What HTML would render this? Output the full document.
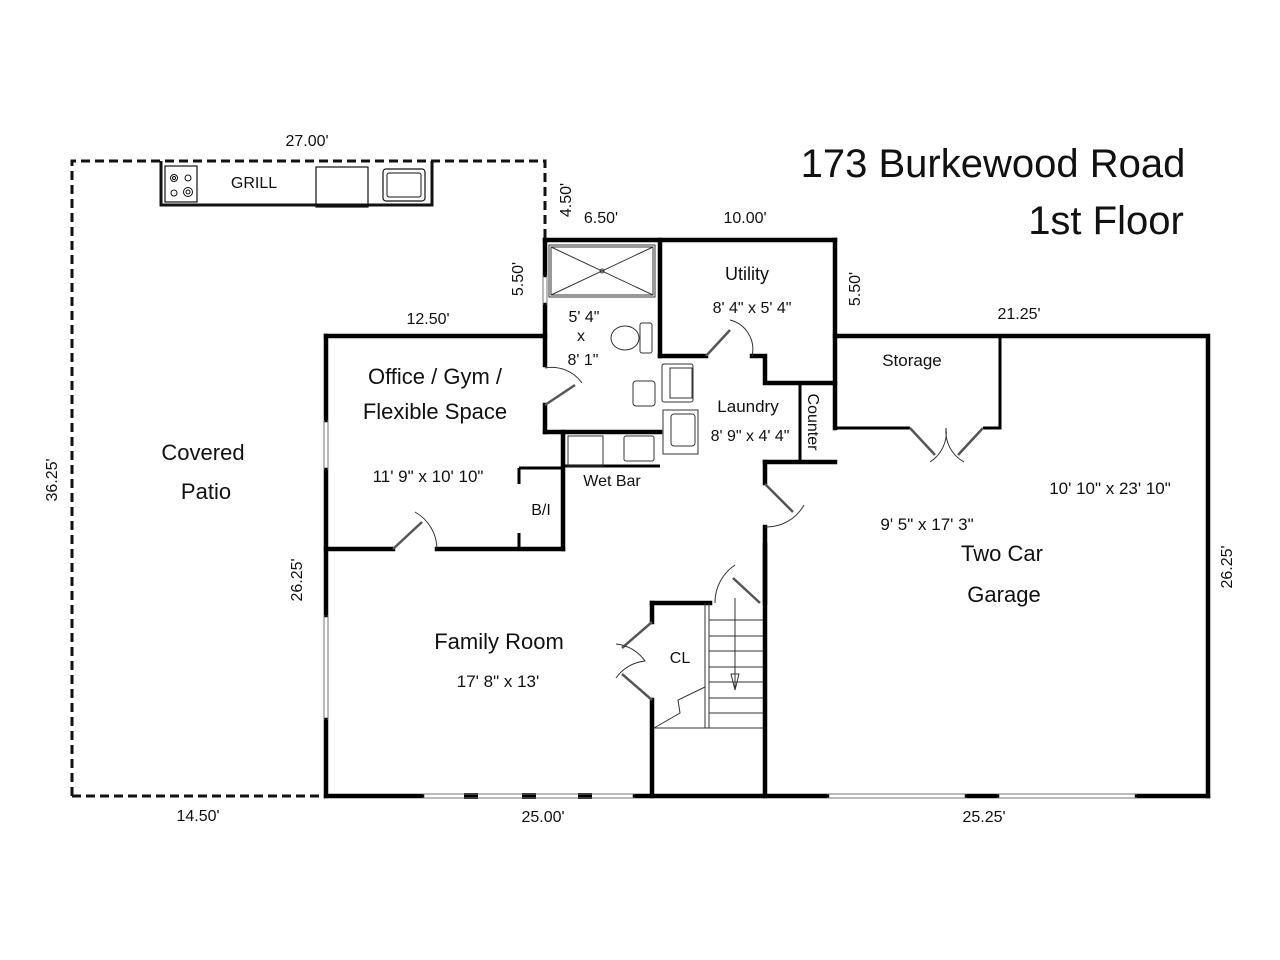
<!DOCTYPE html>
<html><head><meta charset="utf-8"><style>
html,body{margin:0;padding:0;background:#fff}
svg{display:block}
text{font-family:"Liberation Sans",Arial,sans-serif;fill:#111}
</style></head><body>
<svg width="1280" height="960" viewBox="0 0 1280 960" xmlns="http://www.w3.org/2000/svg">
<rect width="1280" height="960" fill="#fff"/>
<!-- title -->
<text x="993" y="177" font-size="40" text-anchor="middle">173 Burkewood Road</text>
<text x="1106" y="234" font-size="40" text-anchor="middle">1st Floor</text>

<!-- dashed patio -->
<g stroke="#111" stroke-width="3" fill="none" stroke-dasharray="9,5">
<path d="M72,796 L72,161 L545,161 L545,240"/>
<path d="M72,796 L326,796"/>
</g>
<!-- grill counter -->
<g stroke="#111" fill="none">
<path d="M161,161 L161,205 L432,205 L432,161" stroke-width="3"/>
<rect x="165" y="166" width="32" height="36" stroke-width="1.2"/>
<circle cx="174" cy="178" r="3.5" stroke-width="1"/><circle cx="174" cy="178" r="1.5" stroke-width="1"/>
<circle cx="188" cy="178" r="3" stroke-width="1"/>
<circle cx="174" cy="193" r="3" stroke-width="1"/>
<circle cx="188" cy="192" r="4.5" stroke-width="1"/><circle cx="188" cy="192" r="2" stroke-width="1"/>
<rect x="316" y="167" width="52" height="40" stroke-width="1.2"/>
<rect x="383" y="169" width="42" height="32" rx="3" stroke-width="1.2"/>
<rect x="387" y="173" width="34" height="24" rx="2" stroke-width="1"/>
</g>
<text x="254" y="188" font-size="16" text-anchor="middle">GRILL</text>

<!-- thick walls -->
<g stroke="#000" stroke-width="4.5" fill="none" stroke-linecap="square">
<path d="M326,336 L545,336"/>
<path d="M326,336 L326,420 M326,470 L326,615 M326,720 L326,796"/>
<path d="M545,240 L835,240"/>
<path d="M545,240 L545,275 M545,305 L545,365 M545,405 L545,432"/>
<path d="M545,432 L660,432"/>
<path d="M563,432 L563,549"/>
<path d="M326,549 L393,549 M437,549 L563,549"/>
<path d="M660,240 L660,356"/>
<path d="M660,356 L706,356 M752,356 L765,356 L765,383 L835,383"/>
<path d="M835,240 L835,428"/>
<path d="M835,336 L1208,336 L1208,796"/>
<path d="M326,796 L422,796 M635,796 L827,796 M967,796 L997,796 M1137,796 L1208,796"/>
<path d="M765,462 L835,462"/>
<path d="M765,462 L765,483 M765,527 L765,796"/>
<path d="M652,603 L710,603"/>
<path d="M652,603 L652,622 M652,700 L652,796"/>
<path d="M765,545 L765,603"/>
</g>
<g stroke="#000" stroke-width="3" fill="none">
<path d="M519,468 L519,484 M519,533 L519,549 M519,468 L563,468"/>
<path d="M835,428 L910,428 M983,428 L1000,428 L1000,336"/>
<path d="M800,383 L800,462"/>
<path d="M563,466 L660,466"/>
</g>
<!-- bottom window posts -->
<g fill="#000">
<rect x="464" y="793" width="14" height="6"/><rect x="522" y="793" width="14" height="6"/><rect x="578" y="793" width="14" height="6"/>
</g>
<g stroke="#777" stroke-width="1" fill="none">
<path d="M422,794 L635,794 M422,798 L635,798"/>
<path d="M827,794 L967,794 M827,798 L967,798 M997,794 L1137,794 M997,798 L1137,798"/>
<path d="M324,420 L324,470 M328,420 L328,470 M324,615 L324,720 M328,615 L328,720"/>
<path d="M543,275 L543,305 M547,275 L547,305"/>
</g>

<!-- fixtures -->
<g stroke="#333" stroke-width="1" fill="none">
<rect x="551" y="247" width="102" height="48"/>
<rect x="549" y="245" width="106" height="52"/>
<path d="M551,247 L653,295 M653,247 L551,295"/>
<circle cx="602" cy="271" r="2"/>
<rect x="640" y="323" width="12" height="30" rx="2"/>
<ellipse cx="625" cy="338" rx="14" ry="12"/>
<rect x="633" y="381" width="22" height="25" rx="3"/>
<rect x="662" y="364" width="31" height="38" rx="2"/>
<rect x="670" y="368" width="22" height="30"/>
<rect x="663" y="410" width="35" height="44"/>
<rect x="671" y="414" width="24" height="32" rx="3"/>
<rect x="568" y="436" width="35" height="30"/>
<rect x="624" y="436" width="30" height="25" rx="2"/>
<!-- doors -->
<path d="M545,405 L575,385" stroke-width="2.5" stroke="#555"/>
<path d="M545,368 A37,37 0 0 1 582,383"/>
<path d="M706,356 L730,330" stroke-width="2.5" stroke="#555"/>
<path d="M730,320 A30,30 0 0 1 752,356"/>
<path d="M393,549 L422,522" stroke-width="2.5" stroke="#555"/>
<path d="M415,512 A43,43 0 0 1 437,549"/>
<path d="M765,484 L793,512" stroke-width="2.5" stroke="#555"/>
<path d="M804,505 A43,43 0 0 1 765,527"/>
<path d="M910,428 L935,455 M983,428 L958,455" stroke-width="2.5" stroke="#555"/>
<path d="M930,462 A35,35 0 0 0 946,428 A35,35 0 0 0 964,462"/>
<path d="M652,622 L622,648 M652,700 L622,674" stroke-width="2.5" stroke="#555"/>
<path d="M616,644 A40,40 0 0 1 645,661 A40,40 0 0 0 616,678"/>
<path d="M760,603 L733,578" stroke-width="2.5" stroke="#555"/>
<path d="M735,565 A45,45 0 0 0 715,603"/>
<!-- stairs -->
<path d="M705,603 L705,728 M709,603 L709,728"/>
<path d="M709,620 L763,620 M709,636 L763,636 M709,651 L763,651 M709,667 L763,667 M709,682 L763,682 M709,698 L763,698 M709,713 L763,713 M654,728 L763,728"/>
<path d="M735,598 L735,690 M731,674 L735,690 L739,674 Z"/>
<path d="M654,728 L680,713 L678,700 L705,687"/>
</g>

<!-- labels -->
<g font-size="16">
<text x="307" y="146" text-anchor="middle">27.00'</text>
<text x="601" y="223" text-anchor="middle">6.50'</text>
<text x="745" y="223" text-anchor="middle">10.00'</text>
<text x="428" y="324" text-anchor="middle">12.50'</text>
<text x="1019" y="319" text-anchor="middle">21.25'</text>
<text x="198" y="821" text-anchor="middle">14.50'</text>
<text x="543" y="822" text-anchor="middle">25.00'</text>
<text x="984" y="822" text-anchor="middle">25.25'</text>
<text transform="translate(571,200) rotate(-90)" text-anchor="middle">4.50'</text>
<text transform="translate(523,279) rotate(-90)" text-anchor="middle">5.50'</text>
<text transform="translate(860,289) rotate(-90)" text-anchor="middle">5.50'</text>
<text transform="translate(57,480) rotate(-90)" text-anchor="middle">36.25'</text>
<text transform="translate(302,580) rotate(-90)" text-anchor="middle">26.25'</text>
<text transform="translate(1232,567) rotate(-90)" text-anchor="middle">26.25'</text>
<text x="584" y="322" text-anchor="middle">5' 4"</text>
<text x="581" y="341" text-anchor="middle">x</text>
<text x="583" y="365" text-anchor="middle">8' 1"</text>
<text x="747" y="280" text-anchor="middle" font-size="18">Utility</text>
<text x="752" y="313" text-anchor="middle">8' 4" x 5' 4"</text>
<text x="748" y="412" text-anchor="middle" font-size="17">Laundry</text>
<text x="750" y="441" text-anchor="middle">8' 9" x 4' 4"</text>
<text transform="translate(808,422) rotate(90)" text-anchor="middle">Counter</text>
<text x="912" y="366" text-anchor="middle" font-size="17">Storage</text>
<text x="612" y="486" text-anchor="middle">Wet Bar</text>
<text x="541" y="515" text-anchor="middle">B/I</text>
<text x="428" y="482" text-anchor="middle" font-size="17">11' 9" x 10' 10"</text>
<text x="680" y="663" text-anchor="middle">CL</text>
<text x="498" y="687" text-anchor="middle" font-size="17">17' 8" x 13'</text>
<text x="927" y="530" text-anchor="middle" font-size="17">9' 5" x 17' 3"</text>
<text x="1110" y="494" text-anchor="middle" font-size="17">10' 10" x 23' 10"</text>
</g>
<g font-size="22">
<text x="435" y="384" text-anchor="middle">Office / Gym /</text>
<text x="435" y="419" text-anchor="middle">Flexible Space</text>
<text x="203" y="460" text-anchor="middle">Covered</text>
<text x="206" y="499" text-anchor="middle">Patio</text>
<text x="499" y="649" text-anchor="middle">Family Room</text>
<text x="1002" y="561" text-anchor="middle">Two Car</text>
<text x="1004" y="602" text-anchor="middle">Garage</text>
</g>
</svg>
</body></html>
